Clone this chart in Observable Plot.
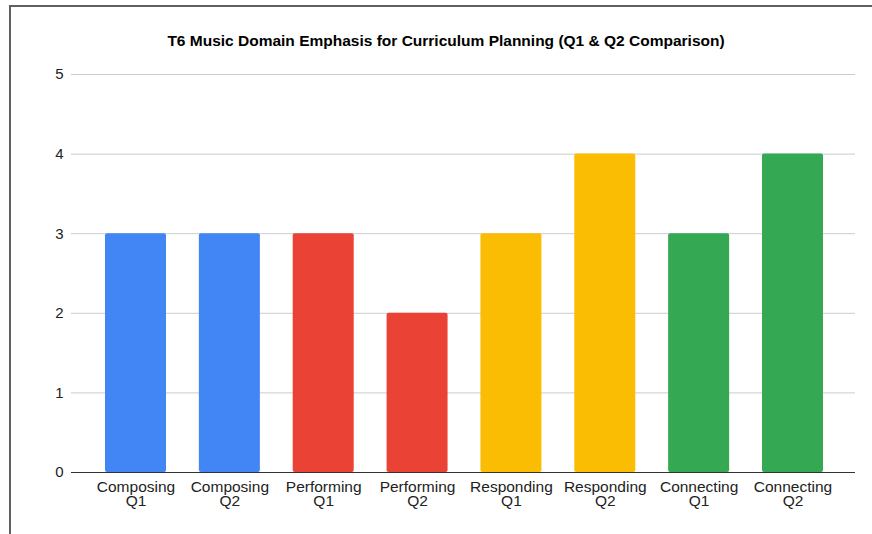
<!DOCTYPE html>
<html><head>
<meta charset="utf-8">
<script src="https://cdn.jsdelivr.net/npm/d3@7"></script>
<script src="https://cdn.jsdelivr.net/npm/@observablehq/plot@0.6"></script>
<style>
body{margin:0;background:#fff;}
#wrap{position:relative;width:872px;height:534px;overflow:hidden;background:#fff;}
#frame{position:absolute;left:9px;top:5px;width:900px;height:600px;border-top:2px solid #606060;border-left:2px solid #606060;}
#title{position:absolute;left:0;width:892px;top:33px;text-align:center;font:bold 15.5px "Liberation Sans",Arial,sans-serif;line-height:15.5px;color:#000;}
#chart{position:absolute;left:0;top:0;}
</style>
</head><body>
<div id="wrap"><div id="frame"></div><div id="chart"></div><div id="title">T6 Music Domain Emphasis for Curriculum Planning (Q1 &amp; Q2 Comparison)</div></div>
<script>
const categories = ["Composing\nQ1","Composing\nQ2","Performing\nQ1","Performing\nQ2","Responding\nQ1","Responding\nQ2","Connecting\nQ1","Connecting\nQ2"];
const values = [3,3,3,2,3,4,3,4];
const domains = ["Composing","Composing","Performing","Performing","Responding","Responding","Connecting","Connecting"];
const domainNames = ["Composing","Performing","Responding","Connecting"];
const domainColors = ["#4285F4","#EA4335","#FBBC04","#34A853"];
const yTicks = [0,1,2,3,4,5];

const data = categories.map((c,i)=>({cat:c, value:values[i], domain:domains[i]}));

const chart = Plot.plot({
  width: 872,
  height: 534,
  marginTop: 74,
  marginBottom: 62,
  marginLeft: 71,
  marginRight: 17,
  style: {fontFamily: '"Liberation Sans", Arial, sans-serif', fontSize: "15px", color: "#222", background: "transparent"},
  x: {domain: categories, paddingInner: 0.35, paddingOuter: 0, round: false, insetLeft: 34, insetRight: 32, label: null},
  y: {domain: [0,5], label: null},
  color: {domain: domainNames, range: domainColors},
  marks: [
    Plot.ruleY(yTicks.slice(1), {stroke: "#cccccc", strokeWidth: 1}),
    Plot.barY(data, {x: "cat", y: "value", fill: "domain", rx: 2}),
    Plot.ruleY([0], {stroke: "#333333", strokeWidth: 1}),
    Plot.axisY({ticks: yTicks, tickFormat: d3.format("d"), tickSize: 0, tickPadding: 8, label: null, fontSize: 15, fill: "#222"}),
    Plot.axisX({tickSize: 0, tickPadding: 10, label: null, fontSize: 15.5, fill: "#222", lineHeight: 0.87})
  ]
});
document.getElementById("chart").appendChild(chart);
</script>
</body></html>
